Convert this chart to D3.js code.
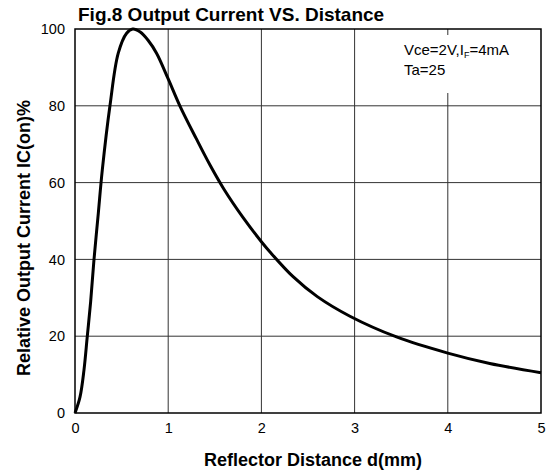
<!DOCTYPE html>
<meta charset="utf-8">
<style>
  body { margin: 0; background: #fff; }
  text { font-family: Arial, "Liberation Sans", sans-serif; }
</style>
<body>
<div id="chart"></div>
<script src="https://d3js.org/d3.v7.min.js"></script>
<script>

// curve
var distance = [0, 0.054, 0.096, 0.132, 0.168, 0.204, 0.25, 0.293, 0.375, 0.464, 0.554, 0.62, 0.7, 0.786, 0.875,
                1.0, 1.125, 1.3, 1.45, 1.6, 1.8, 2.0, 2.09, 2.34, 2.6, 2.95, 3.45, 4.0, 4.45, 5.0];
var current  = [0, 4.2, 11.1, 20, 29, 40, 52, 63.3, 80, 93.7, 98.9, 100, 99.2, 97, 93.7,
                87, 80, 71.5, 64.5, 58.2, 51, 44.6, 42, 35.5, 30.3, 25.2, 19.8, 15.6, 12.9, 10.5];
var xTicks = [0, 1, 2, 3, 4, 5];
var yTicks = [0, 20, 40, 60, 80, 100];

var data = distance.map(function(d, i) { return { x: d, y: current[i] }; });

var W = 551, H = 472;
var margin = {top: 29, right: 10, bottom: 59, left: 75},
    width = 541 - margin.left,
    height = 413 - margin.top;
var font = "Arial, 'Liberation Sans', sans-serif";

var svg = d3.select("#chart")
  .append("svg")
    .attr("width", W)
    .attr("height", H)
  .append("g")
    .attr("transform", "translate(" + margin.left + "," + margin.top + ")");

var x = d3.scaleLinear().domain([0, 5]).range([0, width]);
var y = d3.scaleLinear().domain([0, 100]).range([height, 0]);

// grid
svg.append("g")
  .selectAll("line")
  .data(xTicks.slice(1, -1))
  .enter().append("line")
    .attr("x1", function(d) { return x(d); })
    .attr("x2", function(d) { return x(d); })
    .attr("y1", 0).attr("y2", height)
    .attr("stroke", "#333").attr("stroke-width", 1);

svg.append("g")
  .selectAll("line")
  .data(yTicks.slice(1, -1))
  .enter().append("line")
    .attr("y1", function(d) { return y(d); })
    .attr("y2", function(d) { return y(d); })
    .attr("x1", 0).attr("x2", width)
    .attr("stroke", "#333").attr("stroke-width", 1);

// white box behind the note
svg.append("rect")
  .attr("x", 400 - margin.left).attr("y", 35 - margin.top)
  .attr("width", 122).attr("height", 58)
  .attr("fill", "#fff");

// frame
svg.append("rect")
  .attr("x", 0).attr("y", 0)
  .attr("width", width).attr("height", height)
  .attr("fill", "none").attr("stroke", "#000").attr("stroke-width", 1.5);

// axes labels
var xAxis = d3.axisBottom(x).tickValues(xTicks).tickSize(0).tickPadding(10).tickFormat(d3.format("d"));
var gx = svg.append("g").attr("transform", "translate(0," + height + ")").call(xAxis);
gx.select(".domain").remove();
gx.selectAll("text").attr("font-size", 14.5).attr("fill", "#000").attr("font-family", font);

var yAxis = d3.axisLeft(y).tickValues(yTicks).tickSize(0).tickPadding(10).tickFormat(d3.format("d"));
var gy = svg.append("g").call(yAxis);
gy.select(".domain").remove();
gy.selectAll("text").attr("font-size", 14.5).attr("fill", "#000").attr("font-family", font);

// the curve
svg.append("path")
  .datum(data)
  .attr("fill", "none")
  .attr("stroke", "#000")
  .attr("stroke-width", 3)
  .attr("stroke-linejoin", "round")
  .attr("d", d3.line()
    .x(function(d) { return x(d.x); })
    .y(function(d) { return y(d.y); })
    .curve(d3.curveCatmullRom.alpha(0.5)));

// note
var note = svg.append("text")
  .attr("x", 404 - margin.left).attr("y", 55 - margin.top)
  .attr("font-size", 15).attr("fill", "#000");
note.append("tspan").text("Vce=2V,I");
note.append("tspan").attr("font-size", 9).attr("dy", 3).text("F");
note.append("tspan").attr("dy", -3).text("=4mA");
svg.append("text")
  .attr("x", 404 - margin.left).attr("y", 75 - margin.top)
  .attr("font-size", 15).attr("fill", "#000")
  .text("Ta=25");

// titles
svg.append("text")
  .attr("x", 78 - margin.left).attr("y", 21 - margin.top)
  .attr("font-size", 19).attr("font-weight", "bold")
  .text("Fig.8 Output Current VS. Distance");

svg.append("text")
  .attr("x", 313 - margin.left).attr("y", 466 - margin.top)
  .attr("text-anchor", "middle")
  .attr("font-size", 18).attr("font-weight", "bold")
  .text("Reflector Distance d(mm)");

svg.append("text")
  .attr("transform", "translate(" + (30 - margin.left) + "," + (238 - margin.top) + ") rotate(-90)")
  .attr("text-anchor", "middle")
  .attr("font-size", 18).attr("font-weight", "bold")
  .text("Relative Output Current IC(on)%");

</script>
</body>
